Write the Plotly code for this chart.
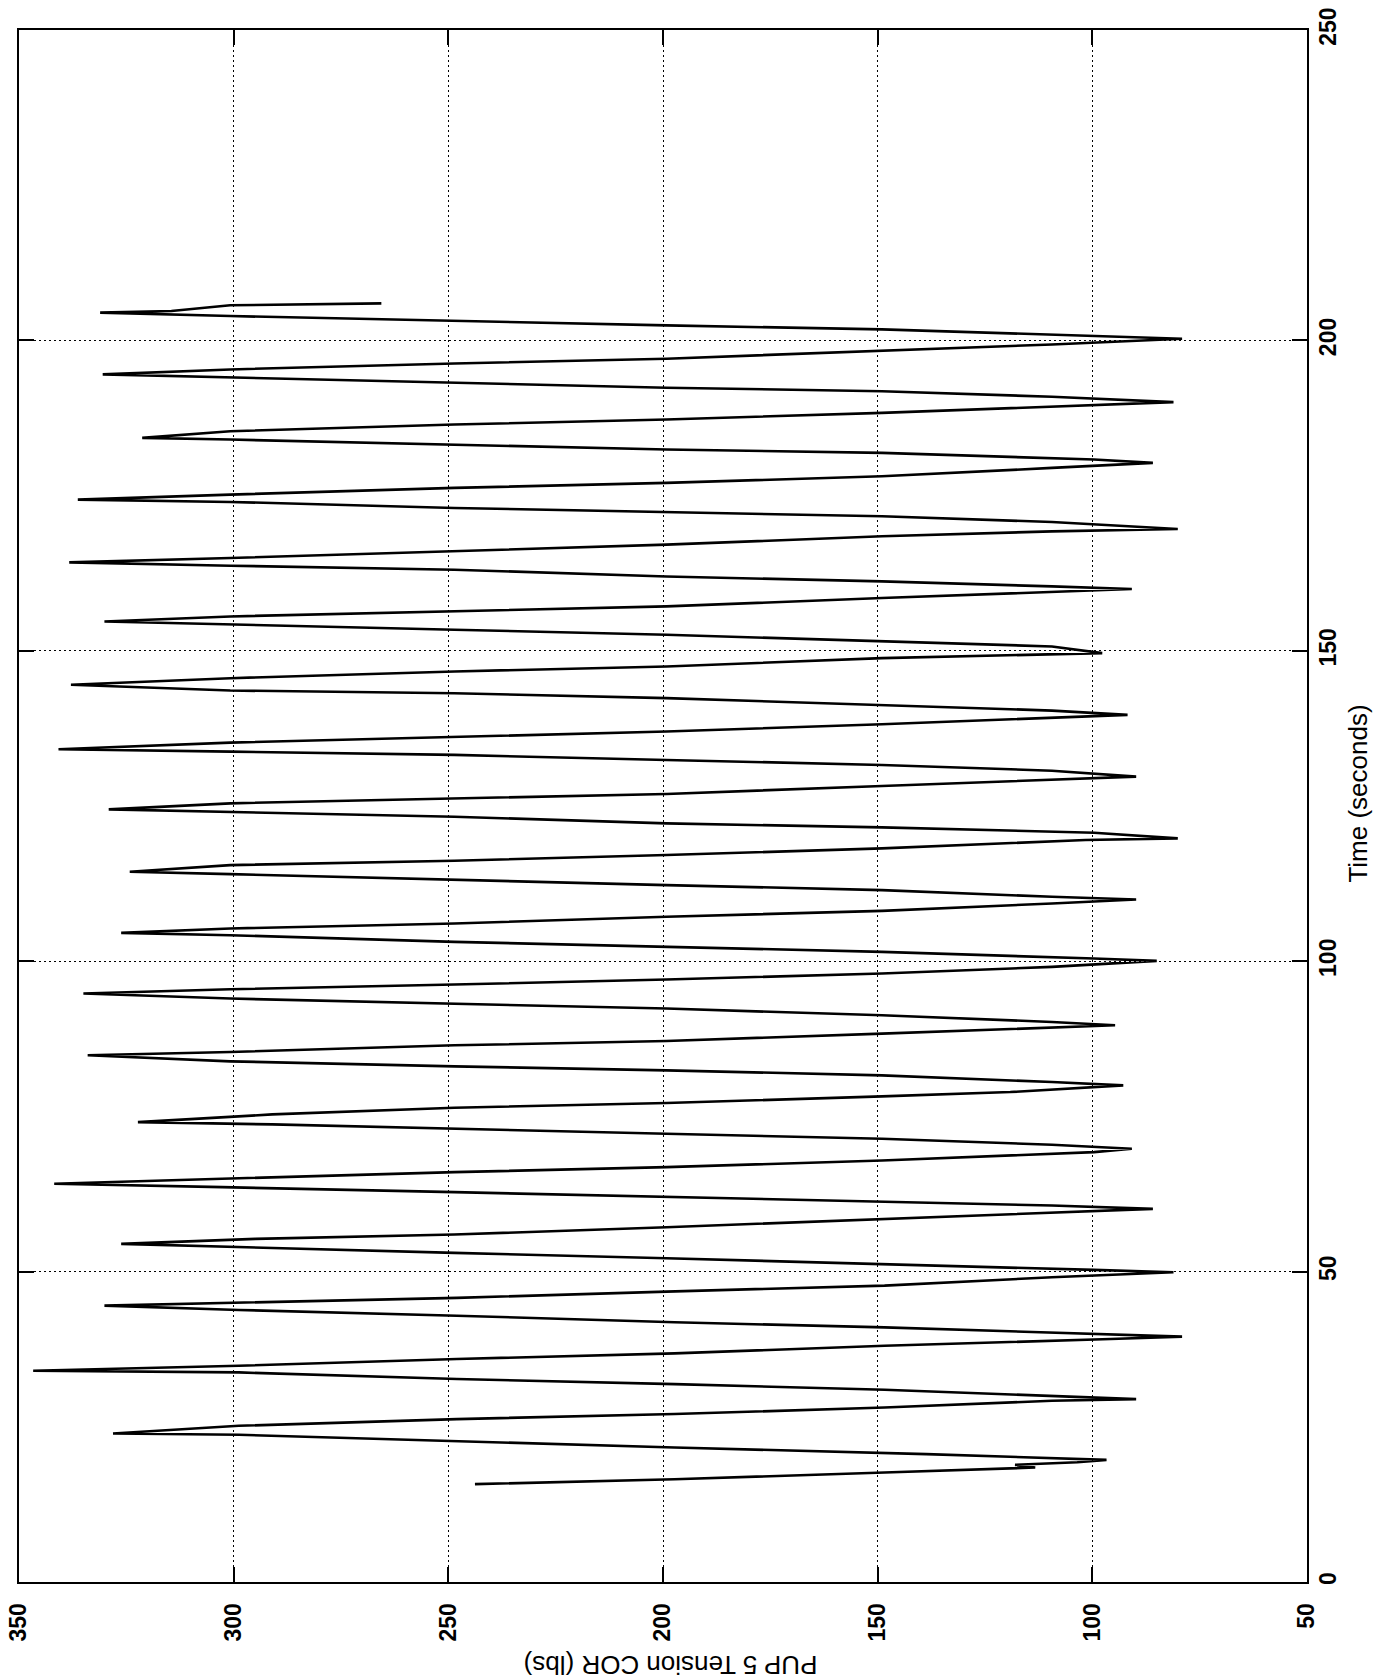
import plotly.graph_objects as go

# PUP 5 tension record, plotted with time running up the right-hand axis
# and tension along the bottom (350 lbs on the left, 50 lbs on the right).
time_s = [
    15.76, 16.56, 17.63, 18.44, 18.87, 19.30, 19.68,
    20.60, 21.66, 22.74, 23.71, 23.92,
    25.16, 26.24, 27.05, 28.11, 29.19, 29.46,
    30.97, 31.88, 32.69, 33.76, 34.03,
    34.84, 35.92, 36.82, 38.06, 39.14, 39.52,
    41.02, 41.83, 42.90, 43.82, 44.52,
    45.76, 46.78, 47.74, 49.09, 49.89,
    50.27, 51.24, 52.15, 53.01, 53.92, 54.47,
    55.27, 55.97, 57.15, 58.50, 59.73, 60.11,
    60.65, 61.29, 61.99, 62.80, 63.60, 64.14,
    64.95, 66.02, 66.83, 67.90, 69.24, 69.78,
    70.43, 71.40, 72.20, 73.01, 73.71, 74.08,
    75.32, 76.40, 77.15, 78.23, 78.92, 80.00,
    80.53, 81.61, 82.42, 83.06, 83.87, 84.84,
    85.37, 86.45, 87.15, 88.33, 89.31, 89.68,
    90.21, 91.29, 92.37, 93.17, 93.98, 94.79,
    95.48, 96.24, 97.05, 98.01, 99.08, 100.05,
    100.43, 101.50, 102.31, 103.12, 104.19, 104.57,
    105.27, 106.08, 107.15, 108.11, 109.30, 109.95,
    110.37, 111.45, 112.26, 113.17, 114.03, 114.40,
    115.48, 116.18, 117.10, 118.17, 119.52, 119.79,
    120.70, 121.56, 122.20, 123.27, 124.08, 124.46,
    125.43, 126.24, 126.94, 128.23, 129.30, 129.73,
    130.69, 131.61, 132.42, 133.23, 133.76, 134.14,
    135.21, 136.18, 136.99, 138.17, 139.14, 139.68,
    140.37, 141.29, 142.37, 143.17, 143.60, 144.52,
    145.59, 146.67, 147.47, 148.82, 149.35, 149.62,
    150.70, 151.50, 152.58, 153.39, 154.19, 154.73,
    155.53, 156.34, 157.15, 158.50, 159.56, 159.95,
    160.37, 161.18, 161.98, 163.06, 163.71, 164.25,
    164.95, 166.02, 167.10, 168.44, 169.24, 169.63,
    170.75, 171.67, 172.31, 173.01, 173.98, 174.35,
    175.16, 176.24, 177.05, 178.11, 179.46, 180.27,
    180.81, 181.88, 182.42, 183.23, 184.03, 184.30,
    185.37, 186.45, 187.26, 188.33, 189.40, 190.05,
    190.92, 191.82, 192.37, 193.18, 193.98, 194.52,
    195.32, 196.29, 197.05, 198.27, 199.35, 200.27,
    200.97, 201.77, 202.42, 203.12, 203.92, 204.47,
    204.73, 205.65, 205.97,
]

tension_lbs = [
    243.8, 197.3, 148.4, 113.3, 118.0, 103.5, 96.7,
    138.7, 197.3, 248.0, 298.8, 328.1,
    298.8, 248.0, 197.3, 148.4, 109.4, 89.8,
    148.4, 197.3, 248.0, 298.8, 346.7,
    298.8, 248.0, 197.3, 148.4, 95.7, 79.1,
    148.4, 197.3, 248.0, 298.8, 330.1,
    248.0, 199.2, 148.4, 109.4, 81.1,
    99.6, 149.0, 199.2, 248.6, 294.9, 326.2,
    294.9, 248.6, 199.2, 149.0, 99.6, 85.9,
    109.4, 149.0, 199.2, 248.6, 302.7, 341.8,
    302.7, 248.6, 199.2, 149.0, 99.6, 90.8,
    109.4, 149.0, 199.2, 248.6, 291.0, 322.3,
    291.0, 248.6, 199.2, 149.0, 119.1, 92.8,
    109.4, 149.0, 199.2, 248.6, 300.8, 334.0,
    300.8, 248.6, 199.2, 149.0, 109.4, 94.7,
    109.4, 149.0, 199.2, 248.6, 300.8, 335.0,
    300.8, 248.6, 199.2, 149.0, 109.4, 85.0,
    99.6, 149.0, 199.2, 248.6, 300.8, 326.2,
    300.8, 248.6, 199.2, 149.0, 109.4, 89.8,
    109.4, 149.0, 199.2, 248.6, 300.8, 324.2,
    300.8, 248.6, 199.2, 149.0, 101.6, 80.1,
    99.6, 149.0, 199.2, 248.6, 300.8, 329.1,
    300.8, 248.6, 199.2, 149.0, 109.4, 89.8,
    109.4, 149.0, 199.2, 248.6, 300.8, 340.8,
    300.8, 248.6, 199.2, 149.0, 109.4, 91.8,
    109.4, 149.0, 199.2, 248.6, 300.8, 337.9,
    300.8, 248.6, 199.2, 149.0, 109.4, 97.7,
    109.4, 149.0, 199.2, 248.6, 300.8, 330.1,
    300.8, 248.6, 199.2, 149.0, 109.4, 90.8,
    109.4, 149.0, 199.2, 248.6, 300.8, 338.3,
    300.8, 248.6, 199.2, 149.0, 109.4, 80.1,
    109.4, 149.0, 199.2, 248.6, 300.8, 336.3,
    300.8, 248.6, 199.2, 149.0, 109.4, 85.9,
    99.6, 149.0, 199.2, 248.6, 300.8, 321.3,
    300.8, 248.6, 199.2, 149.0, 109.4, 81.1,
    109.4, 149.0, 199.2, 248.6, 300.8, 330.5,
    300.8, 248.6, 199.2, 149.0, 109.4, 79.1,
    109.4, 149.0, 199.2, 248.6, 300.8, 331.1,
    314.5, 300.8, 265.6,
]

tension_ticks = [50, 100, 150, 200, 250, 300, 350]
time_ticks = [0, 50, 100, 150, 200, 250]

tension_title = "PUP 5 Tension COR (lbs)"
time_title = "Time (seconds)"

FONT = "Liberation Sans, Arial, Helvetica, sans-serif"

fig = go.Figure(
    go.Scatter(
        x=tension_lbs,
        y=time_s,
        mode="lines",
        line=dict(color="black", width=2.6),
        showlegend=False,
        hoverinfo="skip",
    )
)

axis_common = dict(
    showline=True,
    linecolor="black",
    linewidth=2,
    mirror="ticks",
    ticks="inside",
    ticklen=15,
    tickwidth=1.5,
    tickcolor="black",
    showgrid=True,
    gridcolor="black",
    gridwidth=1,
    griddash="2px,3px",
    zeroline=False,
    tickangle=-90,
    tickfont=dict(family=FONT, size=23, color="black", weight="bold"),
)

fig.update_xaxes(
    range=[350, 50],
    tickvals=tension_ticks,
    ticktext=[str(v) for v in tension_ticks],
    side="bottom",
    ticklabelstandoff=10,
    **axis_common,
)
fig.update_yaxes(
    range=[0, 250],
    tickvals=time_ticks,
    ticktext=[str(v) for v in time_ticks],
    side="right",
    ticklabelstandoff=-1,
    **axis_common,
)

fig.add_annotation(
    text=tension_title,
    xref="paper", yref="paper",
    x=0.506, y=-0.053,
    xanchor="center", yanchor="middle",
    textangle=180,
    showarrow=False,
    font=dict(family=FONT, size=26, color="black"),
)
fig.add_annotation(
    text=time_title,
    xref="paper", yref="paper",
    x=1.0396, y=0.508,
    xanchor="center", yanchor="middle",
    textangle=-90,
    showarrow=False,
    font=dict(family=FONT, size=26, color="black"),
)

fig.update_layout(
    width=1388,
    height=1679,
    margin=dict(l=19, r=81, t=30, b=97, autoexpand=False),
    paper_bgcolor="white",
    plot_bgcolor="white",
)

fig.write_html("out.html")
